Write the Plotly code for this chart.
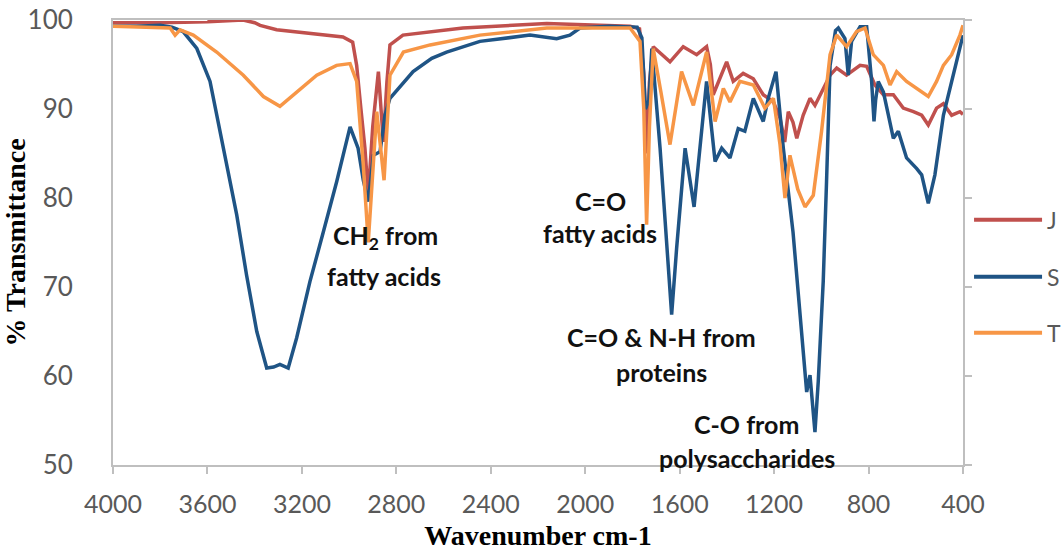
import plotly.graph_objects as go

# ---------------- data ----------------
series_names = ["J", "S", "T"]
series_colors = ["#C0504D", "#1F5485", "#F79646"]

j_wn = [4000, 3800, 3600, 3449, 3400, 3377, 3307, 3166, 3026, 2985, 2968, 2950, 2933, 2919,
        2900, 2876, 2855, 2840, 2827, 2772, 2518, 2163, 1810, 1770, 1752, 1740, 1728, 1712,
        1641, 1585, 1528, 1486, 1470, 1458, 1429, 1401, 1373, 1331, 1288, 1246, 1203, 1175,
        1155, 1140, 1120, 1104, 1077, 1048, 1027, 999, 963, 935, 893, 836, 808, 773, 737,
        695, 653, 610, 575, 547, 512, 483, 448, 413, 400]
j_val = [99.7, 99.7, 99.8, 100.0, 99.7, 99.4, 98.9, 98.5, 98.1, 97.5, 94.9, 90.0, 85.6, 80.3,
         88.0, 94.2, 86.3, 93.0, 97.2, 98.3, 99.1, 99.6, 99.3, 99.0, 94.0, 85.0, 93.0, 97.0,
         95.3, 97.0, 96.1, 97.0, 95.0, 91.6, 93.4, 95.3, 93.1, 94.0, 93.4, 91.6, 90.8, 89.0,
         86.3, 89.7, 88.5, 86.7, 89.3, 91.2, 90.4, 91.9, 93.8, 94.6, 93.8, 94.9, 94.8, 92.7, 91.6,
         91.6, 90.1, 89.7, 89.3, 88.2, 90.1, 90.6, 89.3, 89.7, 89.4]

s_wn = [4000, 3900, 3800, 3750, 3703, 3645, 3589, 3533, 3476, 3434, 3391, 3349, 3320, 3293,
        3258, 3222, 3166, 3109, 3053, 2996, 2962, 2940, 2919, 2897, 2869, 2848, 2827, 2729,
        2650, 2587, 2446, 2234, 2121, 2065, 2022, 1900, 1810, 1780, 1760, 1745, 1730, 1718,
        1683, 1655, 1634, 1613, 1577, 1539, 1507, 1486, 1450, 1422, 1387, 1352, 1324, 1288,
        1246, 1225, 1192, 1161, 1120, 1104, 1077, 1062, 1048, 1041, 1027, 1013, 992, 978,
        963, 940, 928, 900, 886, 872, 836, 808, 787, 777, 770, 759, 737, 716, 695, 674, 639,
        596, 575, 547, 519, 483, 448, 413, 400]
s_val = [99.3, 99.3, 99.4, 99.2, 98.7, 96.8, 93.1, 85.6, 78.1, 71.3, 65.0, 60.9, 61.0, 61.3,
         60.9, 64.3, 70.6, 76.2, 81.8, 88.0, 85.6, 82.0, 79.6, 84.8, 85.2, 89.3, 91.2, 94.2,
         95.7, 96.4, 97.6, 98.3, 97.9, 98.3, 99.1, 99.3, 99.25, 99.2, 98.0, 90.0, 91.0, 96.8,
         85.6, 74.3, 66.9, 74.3, 85.6, 79.0, 87.5, 93.1, 84.1, 85.6, 84.5, 87.8, 87.5, 91.2,
         88.6, 91.2, 94.2, 85.6, 76.2, 71.3, 63.1, 58.2, 60.1, 57.9, 53.7, 59.4, 70.6, 81.8,
         94.9, 98.8, 99.1, 97.9, 93.8, 97.6, 99.25, 99.25, 93.1, 88.6, 91.0, 93.1, 91.9, 89.3,
         86.7, 87.5, 84.5, 83.3, 82.6, 79.4, 82.6, 89.3, 93.1, 96.8, 98.3]

t_wn = [4000, 3900, 3800, 3758, 3737, 3716, 3660, 3561, 3448, 3363, 3293, 3236, 3137, 3053,
        2996, 2968, 2940, 2919, 2883, 2852, 2827, 2770, 2657, 2446, 2163, 1810, 1768, 1752,
        1740, 1728, 1712, 1680, 1641, 1592, 1542, 1486, 1450, 1415, 1387, 1345, 1288, 1239,
        1203, 1175, 1154, 1133, 1100, 1069, 1034, 999, 963, 935, 893, 851, 815, 780, 737,
        709, 681, 639, 596, 547, 512, 483, 448, 413, 400]
t_val = [99.3, 99.2, 99.1, 99.1, 98.3, 98.9, 98.3, 96.4, 93.8, 91.4, 90.3, 91.6, 93.8, 94.9,
         95.1, 93.1, 83.7, 75.0, 89.7, 82.0, 93.8, 96.4, 97.2, 98.3, 99.1, 99.1, 97.6, 90.0,
         77.0, 88.0, 96.8, 92.0, 86.0, 94.2, 90.4, 96.4, 88.6, 92.3, 90.8, 93.1, 92.7, 90.1,
         91.2, 86.0, 80.0, 84.8, 81.0, 79.0, 80.3, 87.5, 96.1, 98.3, 97.0, 98.7, 99.1, 96.1, 94.9,
         92.7, 94.2, 93.1, 92.3, 91.4, 93.1, 94.9, 96.1, 98.3, 99.4]

x_ticks = [4000, 3600, 3200, 2800, 2400, 2000, 1600, 1200, 800, 400]
y_ticks = [50, 60, 70, 80, 90, 100]

x_title = "Wavenumber cm-1"
y_title = "% Transmittance"

# annotation texts with anchor points (wavenumber, transmittance)
notes = [
    ("CH<sub>2</sub> from", 2848, 75.6),
    ("fatty acids", 2852, 71.2),
    ("C=O", 1937, 79.7),
    ("fatty acids", 1937, 76.1),
    ("C=O &amp; N-H from", 1675, 64.4),
    ("proteins", 1675, 60.4),
    ("C-O from", 1315, 54.6),
    ("polysaccharides", 1315, 50.8),
]

# ---------------- figure ----------------
AX = "#BFBFBF"
TICKC = "#595959"

fig = go.Figure()
for name, color, xs, ys in zip(series_names, series_colors,
                               [j_wn, s_wn, t_wn], [j_val, s_val, t_val]):
    fig.add_trace(go.Scatter(x=xs, y=ys, mode="lines", name=name,
                             line=dict(color=color, width=3.5),
                             showlegend=False, cliponaxis=False))

# empty trace that activates the right-hand axis (ticks only)
fig.add_trace(go.Scatter(x=[4000], y=[100], yaxis="y2", mode="lines",
                         showlegend=False, hoverinfo="skip", line=dict(width=0)))

for text, xw, yv in notes:
    fig.add_annotation(x=xw, y=yv, text=text, showarrow=False,
                       font=dict(family="Lato", size=25, color="#111111", weight="bold"),
                       xanchor="center", yanchor="middle")

# hand-made legend to reproduce the long line samples
leg_y = [0.551, 0.423, 0.297]
for name, color, ly in zip(series_names, series_colors, leg_y):
    fig.add_shape(type="line", xref="paper", yref="paper",
                  x0=1.013, x1=1.093, y0=ly, y1=ly,
                  line=dict(color=color, width=4))
    fig.add_annotation(xref="paper", yref="paper", x=1.097, y=ly, text=name,
                       showarrow=False, xanchor="left", yanchor="middle",
                       font=dict(family="Lato", size=23, color=TICKC))

fig.update_layout(
    width=1064, height=551,
    margin=dict(l=113, r=101, t=20, b=86, autoexpand=False),
    paper_bgcolor="white", plot_bgcolor="white",
    xaxis=dict(range=[4000, 400], tickvals=x_ticks, ticks="outside", ticklen=7,
               tickwidth=2, tickcolor=AX, showline=True, linecolor=AX, linewidth=2,
               mirror=True, showgrid=False, zeroline=False, automargin=False,
               ticklabelstandoff=9,
               tickfont=dict(family="Lato", size=25, color=TICKC),
               title=dict(text=x_title, standoff=14,
                          font=dict(family="Liberation Serif", size=28, color="black",
                                    weight="bold"))),
    yaxis=dict(range=[50, 100], tickvals=y_ticks, ticks="", showline=True,
               linecolor=AX, linewidth=2, showgrid=False, zeroline=False,
               automargin=False, ticklabelstandoff=33,
               tickfont=dict(family="Lato", size=26, color=TICKC),
               title=dict(text=y_title, standoff=4,
                          font=dict(family="Liberation Serif", size=28, color="black",
                                    weight="bold"))),
    yaxis2=dict(range=[50, 100], overlaying="y", side="right", tickvals=y_ticks,
                ticks="outside", ticklen=7, tickwidth=2, tickcolor=AX,
                showticklabels=False, showline=True, linecolor=AX, linewidth=2,
                showgrid=False, zeroline=False, automargin=False),
)

fig.write_html("out.html")
